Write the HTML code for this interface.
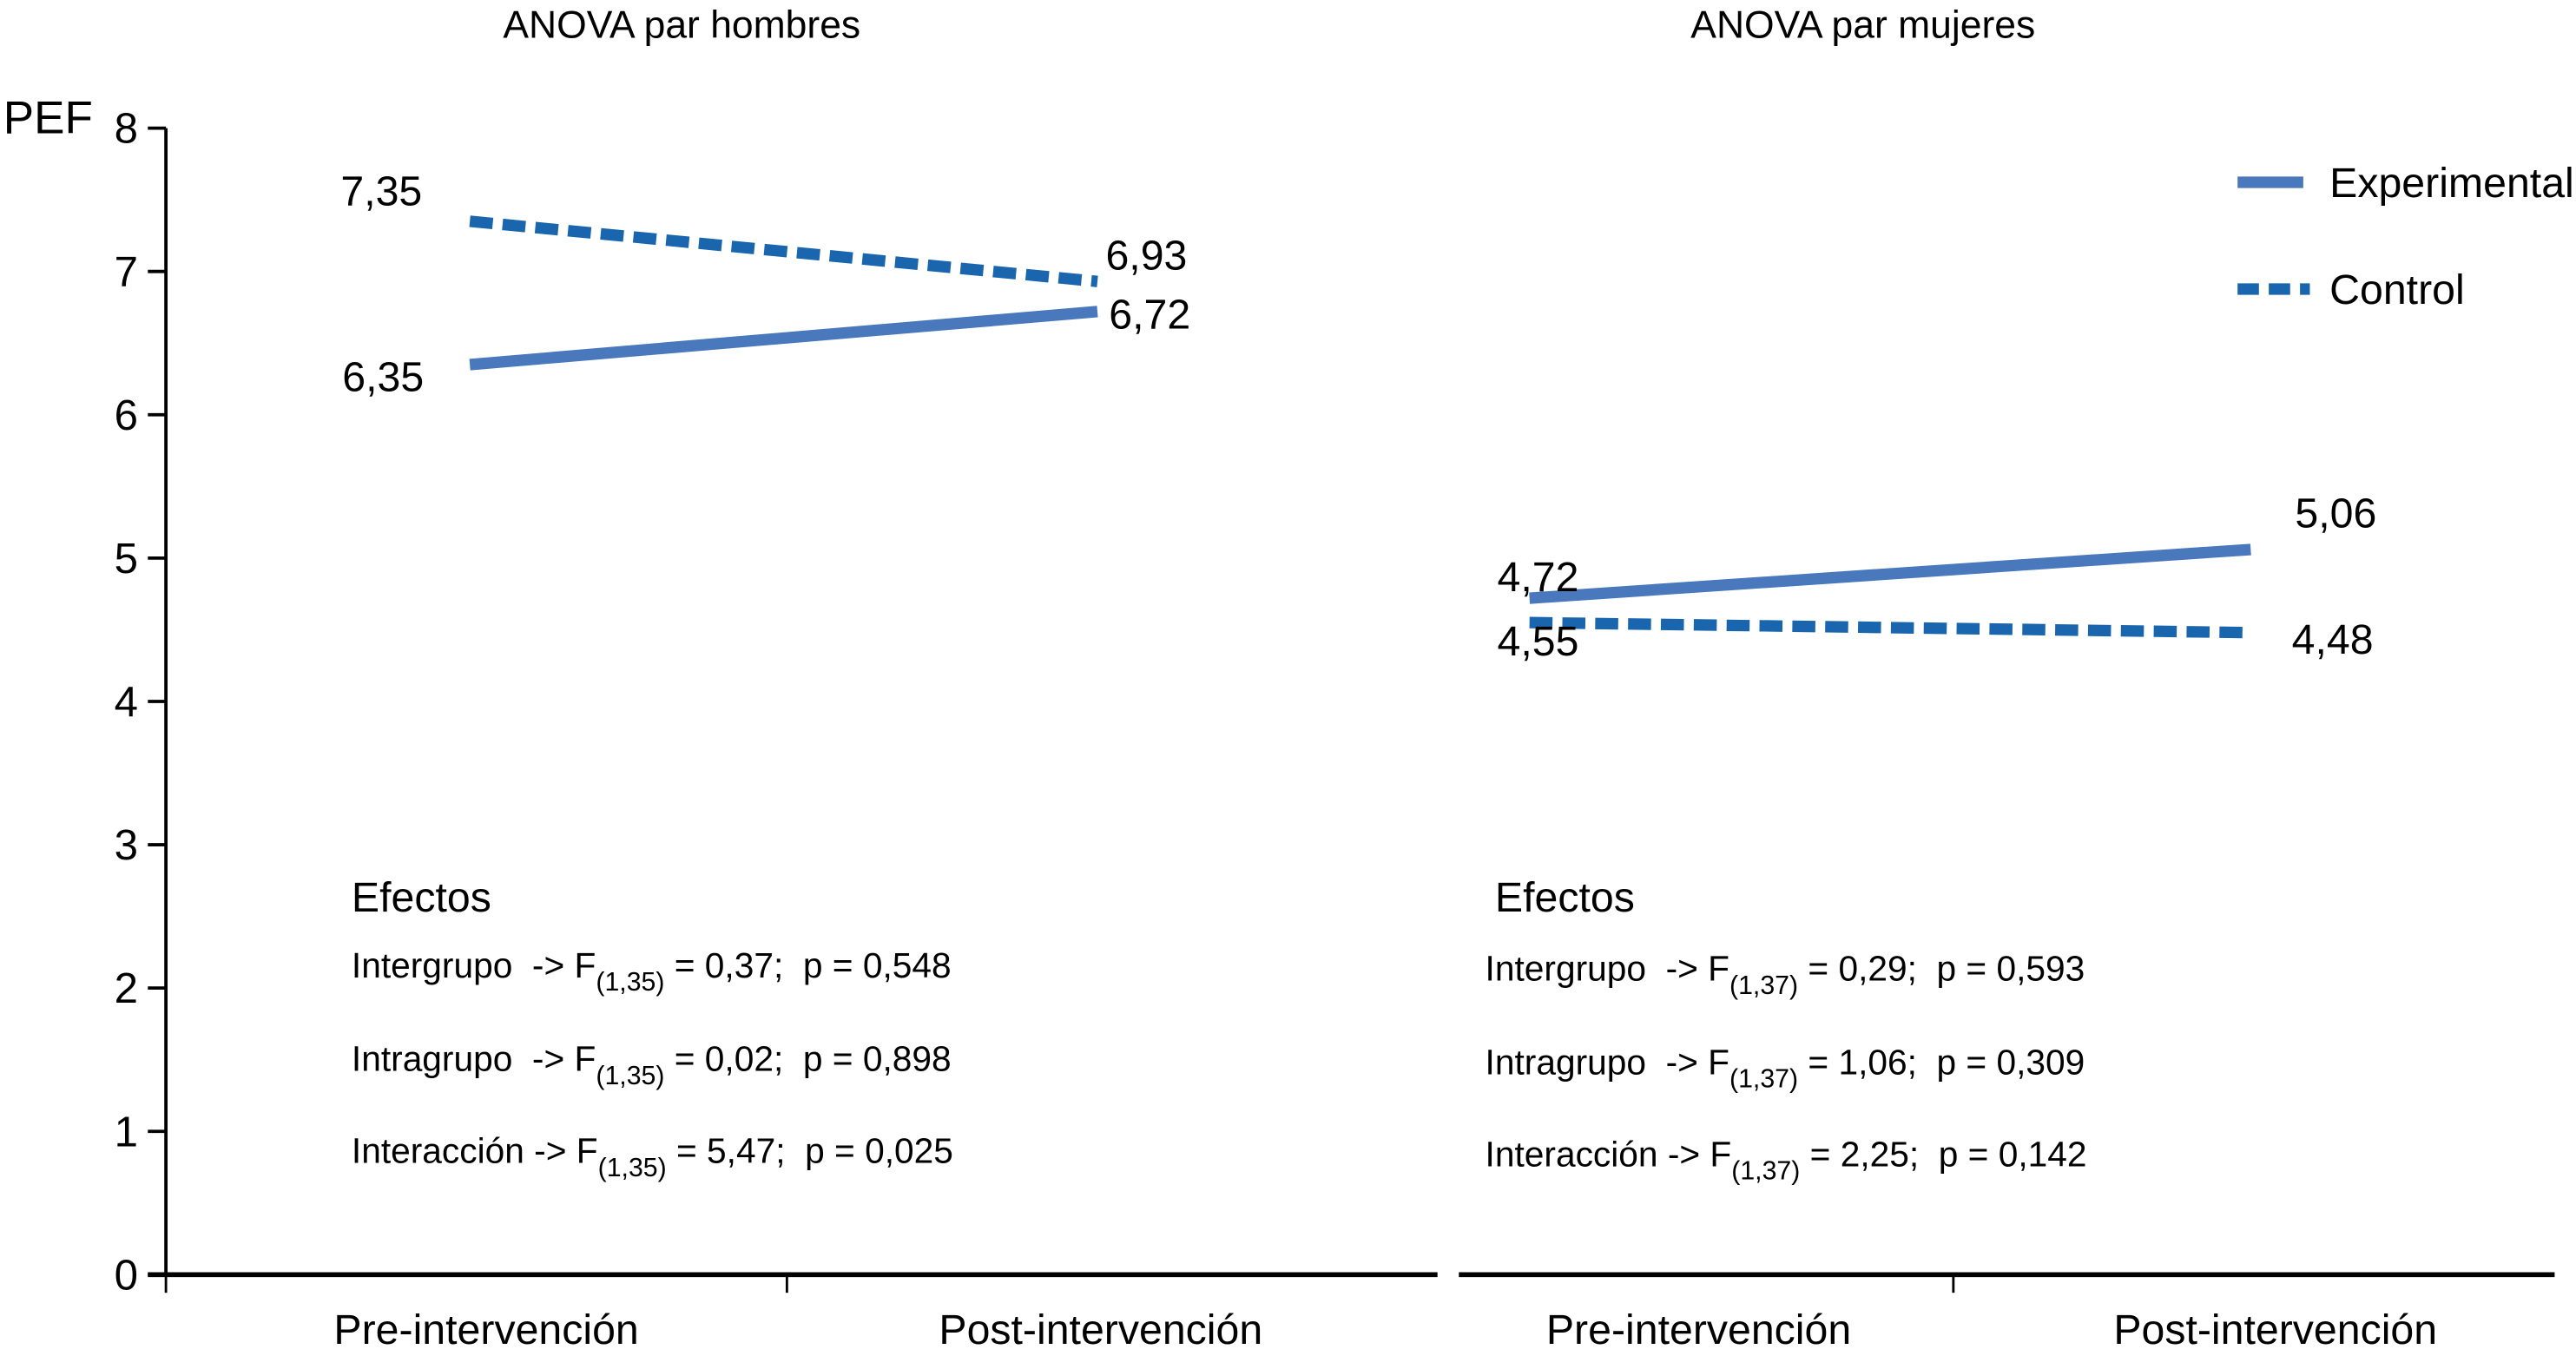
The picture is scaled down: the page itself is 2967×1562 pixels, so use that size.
<!DOCTYPE html>
<html><head><meta charset="utf-8"><style>
html,body{margin:0;padding:0;background:#fff;}
svg{display:block;font-family:"Liberation Sans",sans-serif;}
</style></head><body>
<svg id="c" width="2967" height="1562" viewBox="0 0 1568 825.5" preserveAspectRatio="none" xmlns="http://www.w3.org/2000/svg">
<g id="g"></g>
</svg>
<script>
const yTicks=[0,1,2,3,4,5,6,7,8];
const categories=["Pre-intervención","Post-intervención"];
const menExperimental=[6.35,6.72];
const menControl=[7.35,6.93];
const womenExperimental=[4.72,5.06];
const womenControl=[4.55,4.48];
const menLabels={exp:["6,35","6,72"],ctl:["7,35","6,93"]};
const womenLabels={exp:["4,72","5,06"],ctl:["4,55","4,48"]};
const menStats=[["Intergrupo  -> F","(1,35)"," = 0,37;  p = 0,548"],["Intragrupo  -> F","(1,35)"," = 0,02;  p = 0,898"],["Interacción -> F","(1,35)"," = 5,47;  p = 0,025"]];
const womenStats=[["Intergrupo  -> F","(1,37)"," = 0,29;  p = 0,593"],["Intragrupo  -> F","(1,37)"," = 1,06;  p = 0,309"],["Interacción -> F","(1,37)"," = 2,25;  p = 0,142"]];

const NS="http://www.w3.org/2000/svg";
const g=document.getElementById('g');
function el(t,a,txt){const e=document.createElementNS(NS,t);for(const k in a)e.setAttribute(k,a[k]);if(txt!==undefined)e.textContent=txt;g.appendChild(e);return e;}
const y0=776,yUnit=87.25;
function Y(v){return y0-v*yUnit;}
const panels=[{x:[286,668],left:90,right:875,tick:479,title:"ANOVA par hombres",tx:415,exp:menExperimental,ctl:menControl,lab:menLabels,stats:menStats,sx:214,ex:214,sy:[587,644,700],ey:546,
 lp:{exp:[[258,229,'end'],[675,191,'start']],ctl:[[257,116,'end'],[673,155,'start']]},catx:[296,670]},
 {x:[931,1370],left:888,right:1555,tick:1189,title:"ANOVA par mujeres",tx:1134,exp:womenExperimental,ctl:womenControl,lab:womenLabels,stats:womenStats,sx:904,ex:910,sy:[589,646,702],ey:546,
 lp:{exp:[[961,351,'end'],[1397,312,'start']],ctl:[[961,390,'end'],[1395,389,'start']]},catx:[1034,1385]}];

let e=el('line',{x1:101,y1:Y(8),x2:101,y2:y0,stroke:'#000','stroke-width':2});

yTicks.forEach(t=>{
 let l=el('line',{x1:90,y1:Y(t),x2:101,y2:Y(t),stroke:'#000','stroke-width':2});
 
 let tx=el('text',{x:84,y:Y(t)+9,'font-size':26,'text-anchor':'end'},String(t));
 
});
e=el('text',{x:2,y:81,'font-size':28},'PEF');


panels.forEach((p,pi)=>{
 let a=el('line',{x1:p.left,y1:y0,x2:p.right,y2:y0,stroke:'#000','stroke-width':3});
 
 let tk=el('line',{x1:p.tick,y1:y0,x2:p.tick,y2:y0+11,stroke:'#000','stroke-width':1.5});
 
 if(pi===0){let t0=el('line',{x1:101,y1:y0,x2:101,y2:y0+11,stroke:'#000','stroke-width':1.5});}
 categories.forEach((c,i)=>{let t=el('text',{x:p.catx[i],y:818,'font-size':25.5,'text-anchor':'middle'},c);});
 let ti=el('text',{x:p.tx,y:23,'font-size':23.5,'text-anchor':'middle'},p.title);
 
 let ex=el('line',{x1:p.x[0],y1:Y(p.exp[0]),x2:p.x[1],y2:Y(p.exp[1]),stroke:'#4a78bd','stroke-width':7});
 
 let ct=el('line',{x1:p.x[0],y1:Y(p.ctl[0]),x2:p.x[1],y2:Y(p.ctl[1]),stroke:'#1a66ae','stroke-width':7,'stroke-dasharray':'14 6'});
 
 ['exp','ctl'].forEach(s=>{p.lab[s].forEach((v,i)=>{const q=p.lp[s][i];let t=el('text',{x:q[0],y:q[1]+9,'font-size':25.5,'text-anchor':q[2]},v);});});
 let ef=el('text',{x:p.ex,y:p.ey+9,'font-size':25.5},'Efectos');
 
 p.stats.forEach((s,i)=>{
  let t=el('text',{x:p.sx,y:p.sy[i]+8,'font-size':21.5});
  
  const a1=document.createElementNS(NS,'tspan');a1.textContent=s[0];t.appendChild(a1);
  const a2=document.createElementNS(NS,'tspan');a2.setAttribute('font-size','16');a2.setAttribute('dy','8');a2.textContent=s[1];t.appendChild(a2);
  const a3=document.createElementNS(NS,'tspan');a3.setAttribute('dy','-8');a3.textContent=s[2];t.appendChild(a3);
  t.setAttribute('xml:space','preserve');t.style.whiteSpace='pre';
 });
});
e=el('line',{x1:1362,y1:111,x2:1402,y2:111,stroke:'#4a78bd','stroke-width':7});

e=el('text',{x:1418,y:120,'font-size':25.5},'Experimental');

e=el('line',{x1:1362,y1:176,x2:1406,y2:176,stroke:'#1a66ae','stroke-width':7,'stroke-dasharray':'13 6'});

e=el('text',{x:1418,y:185,'font-size':25.5},'Control');

</script>
</body></html>
